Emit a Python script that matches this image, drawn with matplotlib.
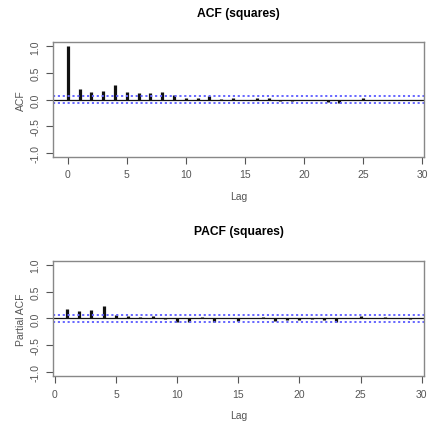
import numpy as np
import matplotlib
matplotlib.use("Agg")
from matplotlib import pyplot as plt

# ACF of squared series, lags 0..29
acf_lags = list(range(0, 30))
acf_vals = [1.00, 0.19, 0.15, 0.17, 0.28, 0.15, 0.13, 0.12, 0.15, 0.08,
            0.02, 0.02, 0.07, 0.01, 0.03, 0.00, 0.02, 0.03, -0.03, -0.02,
            -0.01, 0.00, -0.04, -0.06, -0.01, 0.03, -0.01, -0.01, 0.00, 0.00]

# PACF of squared series, lags 1..29
pacf_lags = list(range(1, 30))
pacf_vals = [0.18, 0.13, 0.15, 0.23, 0.06, 0.04, 0.02, 0.05, -0.01, -0.07,
             -0.06, 0.02, -0.06, 0.00, -0.04, 0.01, 0.02, -0.05, -0.03, -0.03,
             -0.01, -0.03, -0.07, 0.00, 0.05, 0.00, 0.02, 0.00, -0.02]

conf_bound = 0.06
y_ticks = [-1.0, -0.5, 0.0, 0.5, 1.0]
x_ticks = [0, 5, 10, 15, 20, 25, 30]

plt.rcParams["font.family"] = ["Liberation Sans", "DejaVu Sans"]
GRAY = "#555555"


def corr_panel(ax, lags, vals, title, ylabel, xlim):
    ax.vlines(lags, 0, vals, color="#111111", lw=2.3)
    ax.axhline(0, color="#111111", lw=0.9)
    for b in (conf_bound, -conf_bound):
        ax.axhline(b, color="#6666ff", lw=1.4, ls=(0, (1.1, 1.4)))
    ax.set_xlim(*xlim)
    ax.set_ylim(-1.08, 1.08)
    ax.set_xticks(x_ticks)
    ax.set_yticks(y_ticks)
    ax.yaxis.set_major_formatter(plt.FormatStrFormatter("%.1f"))
    ax.tick_params(axis="both", direction="out", length=5, width=0.8,
                   color=GRAY, labelcolor=GRAY, labelsize=7.5, pad=4)
    ax.tick_params(axis="y", labelrotation=90)
    for lbl in ax.get_yticklabels():
        lbl.set_verticalalignment("center")
    for s in ax.spines.values():
        s.set_color("#888888")
        s.set_linewidth(1.0)
    ax.set_title(title, fontsize=8.7, fontweight="bold", pad=19)
    ax.set_xlabel("Lag", color=GRAY, fontsize=7.5, labelpad=8)
    ax.set_ylabel(ylabel, color=GRAY, fontsize=7.5, labelpad=3.5)


fig = plt.figure(figsize=(4.28, 4.27), dpi=100)
ax1 = fig.add_axes([0.124, 0.630, 0.867, 0.269])
ax2 = fig.add_axes([0.124, 0.117, 0.867, 0.270])

corr_panel(ax1, acf_lags, acf_vals, "ACF (squares)", "ACF", (-1.24, 30.17))
corr_panel(ax2, pacf_lags, pacf_vals, "PACF (squares)", "Partial ACF", (-0.14, 30.19))

fig.savefig("out.png", dpi=100)
